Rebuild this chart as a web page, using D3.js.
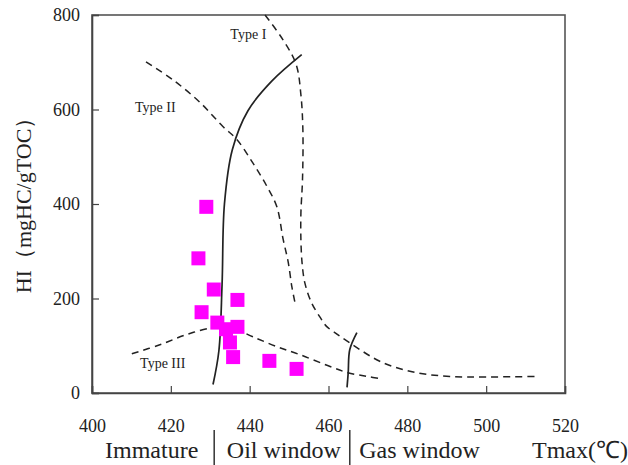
<!DOCTYPE html>
<html>
<head>
<meta charset="utf-8">
<script src="https://cdn.jsdelivr.net/npm/d3@7"></script>
<style>
  html, body { margin: 0; padding: 0; background: #fff; }
  svg { display: block; }
  svg text { font-family: "Liberation Serif", "Times New Roman", serif !important; fill: #222; }
</style>
</head>
<body>
<svg id="chart" width="628" height="465"></svg>
<script>
// Tmax (°C) vs HI (mgHC/gTOC) kerogen-type diagram
const xTicks = [400, 420, 440, 460, 480, 500, 520];
const yTicks = [0, 200, 400, 600, 800];

// Samples: [Tmax, HI]
const samples = [
  [429.0, 394], [427.0, 285], [430.9, 219], [436.9, 197],
  [427.8, 171], [431.8, 149], [434.0, 135], [436.9, 140],
  [435.0, 107], [435.8, 76], [445.0, 68], [451.9, 51]
];

// Kerogen type evolution paths
const typeI = [
  [443.9, 800], [448.5, 747], [451.8, 695], [453.0, 631], [453.5, 557],
  [453.4, 451], [453.0, 381], [453.0, 324], [453.3, 275], [454.0, 233],
  [455.7, 191], [457.8, 161], [459.5, 141], [461.6, 128], [465.4, 106],
  [473.8, 64], [482.4, 43], [490.8, 35], [500.0, 34], [512.4, 35]
];
const typeII = [
  [413.7, 701], [420.5, 663], [427.4, 615], [433.2, 564], [436.8, 536],
  [440.8, 487], [444.4, 437], [446.9, 394], [448.5, 325], [449.8, 276],
  [450.7, 225], [451.5, 191]
];
const typeIII = [
  [410.1, 83], [417.2, 102], [424.1, 124], [430.7, 138], [435.8, 136],
  [440.8, 119], [446.9, 98], [452.8, 81], [460.4, 56], [464.9, 43],
  [469.8, 35], [473.6, 30]
];

// Maturity boundaries
const oilOnset = [
  [430.7, 18], [432.2, 90], [433.0, 230], [433.6, 400],
  [435.6, 515], [439.6, 598], [445.6, 660], [453.2, 716]
];
const gasOnset = [[464.7, 12], [465.0, 43], [465.4, 92], [467.2, 128]];

const typeLabels = [
  { text: "Type I", x: 435.1, y: 750 },
  { text: "Type II", x: 410.9, y: 594 },
  { text: "Type III", x: 412.2, y: 52 }
];
const zones = ["Immature", "Oil window", "Gas window"];
const zoneStarts = [403.3, 434.2, 467.8];
const zoneBounds = [431.0, 465.4];

const svg = d3.select("#chart");
const m = { left: 92, right: 565, top: 15, bottom: 393 };

const x = d3.scaleLinear().domain([400, 520]).range([m.left, m.right]);
const y = d3.scaleLinear().domain([0, 800]).range([m.bottom, m.top]);

// Frame
svg.append("rect")
  .attr("x", m.left).attr("y", m.top)
  .attr("width", m.right - m.left).attr("height", m.bottom - m.top)
  .attr("fill", "none").attr("stroke", "#555").attr("stroke-width", 1.6);

// Axes with inward ticks
const xAxis = svg.append("g").attr("transform", `translate(0,${m.bottom})`)
  .call(d3.axisBottom(x).tickValues(xTicks).tickSize(-7).tickPadding(26));
const yAxis = svg.append("g").attr("transform", `translate(${m.left},0)`)
  .call(d3.axisLeft(y).tickValues(yTicks).tickSize(-7).tickPadding(12));
[xAxis, yAxis].forEach(g => {
  g.attr("font-family", null);
  g.select(".domain").attr("stroke", "#444").attr("stroke-width", 1.6);
  g.selectAll(".tick line").attr("stroke", "#444").attr("stroke-width", 1.2);
  g.selectAll(".tick text").attr("font-size", 18).attr("fill", "#222");
});

const line = d3.line().x(d => x(d[0])).y(d => y(d[1])).curve(d3.curveCatmullRom.alpha(0.5));

const plot = svg.append("g");
[typeI, typeII, typeIII].forEach(path => {
  plot.append("path").datum(path).attr("d", line)
    .attr("fill", "none").attr("stroke", "#222").attr("stroke-width", 1.5)
    .attr("stroke-dasharray", "7,5");
});
[oilOnset, gasOnset].forEach(path => {
  plot.append("path").datum(path).attr("d", line)
    .attr("fill", "none").attr("stroke", "#222").attr("stroke-width", 1.7);
});

// Samples
const sq = 14;
plot.selectAll("rect.sample").data(samples).enter().append("rect")
  .attr("class", "sample")
  .attr("x", d => x(d[0]) - sq / 2).attr("y", d => y(d[1]) - sq / 2)
  .attr("width", sq).attr("height", sq)
  .attr("fill", "#ff00ff");

// Type labels
plot.selectAll("text.type").data(typeLabels).enter().append("text")
  .attr("class", "type")
  .attr("x", d => x(d.x)).attr("y", d => y(d.y))
  .attr("font-size", 14).attr("fill", "#333")
  .text(d => d.text);

// Y axis title
svg.append("text")
  .attr("transform", "translate(31,200) rotate(-90)")
  .attr("text-anchor", "middle")
  .attr("font-size", 22)
  .text("HI（mgHC/gTOC）");

// Maturity zones below the axis
svg.selectAll("text.zone").data(zones).enter().append("text")
  .attr("class", "zone")
  .attr("x", (d, i) => x(zoneStarts[i])).attr("y", 458)
  .attr("font-size", 24)
  .text(d => d);
svg.selectAll("line.zone").data(zoneBounds).enter().append("line")
  .attr("class", "zone")
  .attr("x1", d => x(d)).attr("x2", d => x(d))
  .attr("y1", 430).attr("y2", 465)
  .attr("stroke", "#333").attr("stroke-width", 1.5);

svg.append("text")
  .attr("x", 532).attr("y", 458)
  .attr("font-size", 24)
  .text("Tmax(℃)");
</script>
</body>
</html>
